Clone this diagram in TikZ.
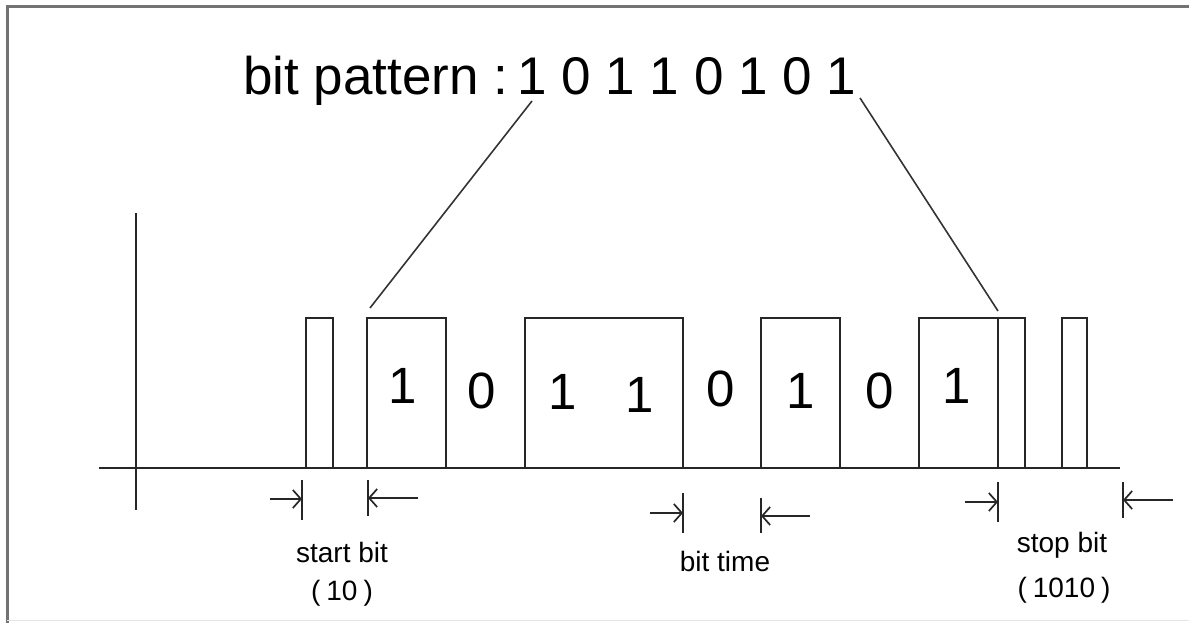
\documentclass[tikz,border=0pt]{standalone}
\usepackage{fontspec}
\setmainfont{Liberation Sans}
\usetikzlibrary{arrows.meta}
\tikzset{
  sig/.style={line width=2pt, draw=black!85, line join=miter},
  tick/.style={line width=2pt, draw=black!85},
  dimarrow/.style={line width=2pt, draw=black!85, -{Straight Barb[length=8pt,width=18pt,line width=1.7pt]}},
  frame/.style={line width=3pt, draw=black!55},
  lead/.style={line width=1.6pt, draw=black!80},
  digit/.style={font=\fontsize{51}{51}\selectfont, anchor=base, inner sep=0pt},
  lbl/.style={font=\fontsize{28}{28}\selectfont, anchor=base, inner sep=0pt},
  title/.style={font=\fontsize{53}{53}\selectfont, anchor=base west, inner sep=0pt}
}
\begin{document}
\begin{tikzpicture}[x=1pt,y=-1pt]
\useasboundingbox (0,0) rectangle (1189,623);
% frame
\draw[frame] (7,623) -- (7,7) -- (1189,7);
\draw[line width=1pt, draw=black!10] (7,620) -- (1189,620);
% axes
\draw[sig] (136,213) -- (136,510);
\draw[sig] (99,468) -- (1120,468);
% pulses
\draw[sig] (306,468) -- (306,318) -- (333,318) -- (333,468);
\draw[sig] (367,468) -- (367,318) -- (446,318) -- (446,468);
\draw[sig] (525,468) -- (525,318) -- (683,318) -- (683,468);
\draw[sig] (761,468) -- (761,318) -- (840,318) -- (840,468);
\draw[sig] (919,468) -- (919,318) -- (1025,318) -- (1025,468);
\draw[sig] (998,318) -- (998,468);
\draw[sig] (1062,468) -- (1062,318) -- (1087,318) -- (1087,468);
% title
\node[title] (ttl) at (243,95) {bit pattern :\hspace{9pt}1 0 1 1 0 1 0 1};
\coordinate (l1a) at (532,101);
\coordinate (l1b) at (370,308);
\coordinate (l2a) at (860,98);
\coordinate (l2b) at (998,311);
\draw[lead] (l1a) -- (l1b);
\draw[lead] (l2a) -- (l2b);
% digits
\node[digit] (d1) at (403,403) {1};
\node[digit] (d2) at (482,408) {0};
\node[digit] (d3) at (563,409) {1};
\node[digit] (d4) at (640,412) {1};
\node[digit] (d5) at (721,406) {0};
\node[digit] (d6) at (801,408) {1};
\node[digit] (d7) at (880,408) {0};
\node[digit] (d8) at (957,403) {1};
% start bit dimension
\coordinate (s1t) at (302,480); \coordinate (s1b) at (302,520);
\coordinate (s1a) at (270,499); \coordinate (s1e) at (302,499);
\coordinate (s2t) at (368,480); \coordinate (s2b) at (368,516);
\coordinate (s2a) at (418,498); \coordinate (s2e) at (368,498);
\draw[tick] (s1t) -- (s1b);
\draw[tick] (s2t) -- (s2b);
\draw[dimarrow] (s1a) -- (s1e);
\draw[dimarrow] (s2a) -- (s2e);
% bit time dimension
\coordinate (b1t) at (683,493); \coordinate (b1b) at (683,533);
\coordinate (b1a) at (650,513); \coordinate (b1e) at (683,513);
\coordinate (b2t) at (761,498); \coordinate (b2b) at (761,533);
\coordinate (b2a) at (810,516); \coordinate (b2e) at (761,516);
\draw[tick] (b1t) -- (b1b);
\draw[tick] (b2t) -- (b2b);
\draw[dimarrow] (b1a) -- (b1e);
\draw[dimarrow] (b2a) -- (b2e);
% stop bit dimension
\coordinate (p1t) at (998,482); \coordinate (p1b) at (998,522);
\coordinate (p1a) at (965,502); \coordinate (p1e) at (998,502);
\coordinate (p2t) at (1123,482); \coordinate (p2b) at (1123,518);
\coordinate (p2a) at (1173,500); \coordinate (p2e) at (1123,500);
\draw[tick] (p1t) -- (p1b);
\draw[tick] (p2t) -- (p2b);
\draw[dimarrow] (p1a) -- (p1e);
\draw[dimarrow] (p2a) -- (p2e);
% labels
\node[lbl] (startlbl) at (342,562) {start bit};
\node[lbl] (startval) at (342,600) {(\hspace{6pt}10\hspace{6pt})};
\node[lbl] (bitlbl) at (725,571) {bit time};
\node[lbl] (stoplbl) at (1062,552) {stop bit};
\node[lbl] (stopval) at (1064,597) {(\hspace{6pt}1010\hspace{6pt})};
\end{tikzpicture}
\end{document}
